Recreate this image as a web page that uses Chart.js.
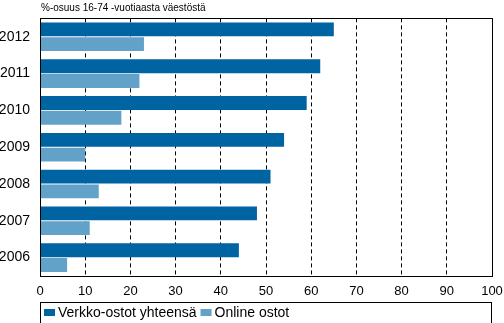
<!DOCTYPE html>
<html>
<head>
<meta charset="utf-8">
<script src="https://cdn.jsdelivr.net/npm/chart.js@4"></script>
<style>
  html, body { margin: 0; padding: 0; background: #fff; }
  #wrap { width: 504px; height: 323px; position: relative; }
</style>
</head>
<body>
<div id="wrap"><canvas id="c" width="504" height="323"></canvas></div>
<script>
// Share of 16-74 year olds who shopped online, by year
const years = ['2012', '2011', '2010', '2009', '2008', '2007', '2006'];
const verkkoOstot = [65, 62, 59, 54, 51, 48, 44];
const onlineOstot = [23, 22, 18, 10, 13, 11, 6];
const xTicks = [0, 10, 20, 30, 40, 50, 60, 70, 80, 90, 100];

const seriesNames = ['Verkko-ostot yhteensä', 'Online ostot'];
const seriesColors = ['#0063A2', '#63A2C8'];
const unitTitle = '%-osuus 16-74 -vuotiaasta väestöstä';
const FONT = '"Liberation Sans", Arial, sans-serif';

// Frame around the plot, unit title above it and a boxed legend below it
const decorations = {
  id: 'decorations',
  afterDatasetsDraw(chart) {
    const { ctx, chartArea: a } = chart;
    ctx.save();
    ctx.strokeStyle = '#000';
    ctx.lineWidth = 1;
    ctx.strokeRect(Math.round(a.left) + 0.5, Math.round(a.top) + 0.5,
                   Math.round(a.right - a.left), Math.round(a.bottom - a.top));
    ctx.restore();
  },
  afterDraw(chart) {
    const { ctx, chartArea: a } = chart;
    ctx.save();
    ctx.fillStyle = '#000';
    ctx.font = '10px ' + FONT;
    ctx.textBaseline = 'alphabetic';
    ctx.textAlign = 'left';
    ctx.fillText(unitTitle, a.left + 1, 11);

    // legend box
    const top = 302.5;
    ctx.strokeStyle = '#000';
    ctx.lineWidth = 1;
    ctx.strokeRect(Math.round(a.left) + 0.5, top, Math.round(a.right - a.left) - 1, 24);
    ctx.font = '14px ' + FONT;
    ctx.textBaseline = 'middle';
    let x = Math.round(a.left) + 4;
    chart.data.datasets.forEach(ds => {
      ctx.fillStyle = ds.backgroundColor;
      ctx.fillRect(x, 309, 11, 7);
      ctx.fillStyle = '#000';
      ctx.fillText(ds.label, x + 14, 313);
      x += 14 + ctx.measureText(ds.label).width + 4;
    });
    ctx.restore();
  }
};

new Chart(document.getElementById('c'), {
  type: 'bar',
  data: {
    labels: years,
    datasets: [
      { label: seriesNames[0], data: verkkoOstot, backgroundColor: seriesColors[0] },
      { label: seriesNames[1], data: onlineOstot, backgroundColor: seriesColors[1] }
    ]
  },
  options: {
    indexAxis: 'y',
    responsive: false,
    animation: false,
    devicePixelRatio: 1,
    categoryPercentage: 0.8,
    barPercentage: 0.94,
    layout: { padding: { top: 16, right: 0, bottom: 23, left: 0 } },
    plugins: { legend: { display: false }, tooltip: { enabled: false }, title: { display: false } },
    scales: {
      x: {
        min: 0, max: 100,
        afterBuildTicks(scale) { scale.ticks = xTicks.map(v => ({ value: v })); },
        afterFit(scale) { scale.height = 24; scale.paddingRight = 12; },
        grid: {
          drawTicks: false,
          color: c => (c.tick && (c.tick.value === 0 || c.tick.value === 100)) ? 'rgba(0,0,0,0)' : '#000',
          lineWidth: 1
        },
        border: { display: true, color: '#000', dash: [4, 3] },
        ticks: { color: '#000', font: { family: FONT, size: 13 }, padding: 8, maxRotation: 0, autoSkip: false }
      },
      y: {
        afterFit(scale) { scale.width = 40; },
        grid: { display: false, drawTicks: false },
        border: { display: true, color: '#000' },
        ticks: { color: '#000', font: { family: FONT, size: 14 }, padding: 10 }
      }
    }
  },
  plugins: [decorations]
});
</script>
</body>
</html>
